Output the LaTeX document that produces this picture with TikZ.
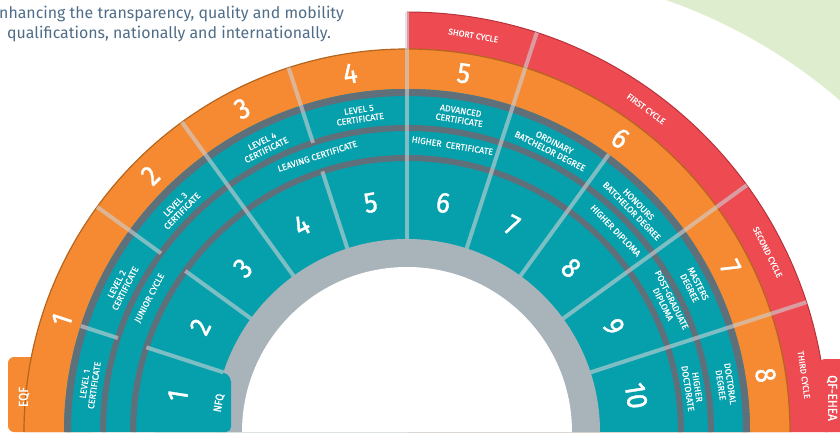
\documentclass[tikz,border=0pt]{standalone}
\usepackage{fontspec}
\setmainfont{Fira Sans}
\newfontfamily\lblfont{Fira Sans}[FakeBold=0.5]
\newfontfamily\numfont{Fira Sans}[FakeStretch=0.9, FakeBold=1.2]
\definecolor{tealc}{HTML}{05A0AC}
\definecolor{darkband}{HTML}{5F707B}
\definecolor{grayring}{HTML}{A9B3BA}
\definecolor{orangec}{HTML}{F58A32}
\definecolor{redc}{HTML}{EE4A51}
\definecolor{brownl}{HTML}{B5651D}
\definecolor{darkred}{HTML}{B8323A}
\definecolor{greenbg}{HTML}{DFEDCF}
\definecolor{toptext}{HTML}{4F6D88}
\definecolor{divc}{HTML}{CDD3D6}
\tikzset{
  lbl/.style={text=white, font=\lblfont\fontsize{8.8}{9.6}\selectfont, align=center, inner sep=0pt},
  cyc/.style={text=white, font=\lblfont\fontsize{8.5}{9}\selectfont, inner sep=0pt},
  numt/.style={text=white, font=\numfont\fontsize{29}{29}\selectfont, inner sep=0pt},
  tabt/.style={text=white, font=\numfont\fontsize{13}{13}\selectfont, inner sep=0pt},
  divider/.style={draw=divc, draw opacity=0.6, line width=4pt},
  darkarc/.style={draw=darkband, line width=6pt},
  toptxt/.style={text=toptext, font=\fontsize{15.9}{18}\selectfont, inner sep=0pt, anchor=base west}
}
\begin{document}
\begin{tikzpicture}[x=1pt,y=1pt]
\useasboundingbox (0,0) rectangle (840,432);
\coordinate (C) at (407,0);
% background green shape
\begin{scope}
\clip (560,150) rectangle (840,432);
\fill[greenbg, even odd rule] (550,140) rectangle (900,500) (488,-78) circle[radius=540];
\end{scope}
% top text
\node[toptxt] (t1) at (-1,413) {nhancing the transparency, quality and mobility};
\node[toptxt] (t2) at (7,393) {qualifications, nationally and internationally.};
% red band (QF-EHEA)
\fill[redc] (C) -- ([shift={(C)}]0:420) arc[start angle=0,end angle=90,radius=420] -- cycle;
\draw[darkred, line width=1pt] ([shift={(C)}]0:420) arc[start angle=0,end angle=90,radius=420];
\fill[redc, rounded corners=6pt] (819,0) -- (819,73) -- (850,73) -- (850,0) -- cycle;
% orange band (EQF)
\fill[orangec] ([shift={(C)}]0:383) arc[start angle=0,end angle=180,radius=383] -- cycle;
\fill[orangec, rounded corners=6pt] (100,0) -- (8,0) -- (8,75) -- (100,75) -- cycle;
\draw[brownl, line width=1.2pt] ([shift={(C)}]0:383) arc[start angle=0,end angle=180,radius=383];
% teal area
\fill[tealc] ([shift={(C)}]0:343) arc[start angle=0,end angle=180,radius=343] -- cycle;
\draw[darkarc] ([shift={(C)}]0:274) arc[start angle=0,end angle=180,radius=274];
\draw[darkarc] ([shift={(C)}]0:304) arc[start angle=0,end angle=180,radius=304];
\draw[darkarc, line width=7pt] ([shift={(C)}]0:339.5) arc[start angle=0,end angle=180,radius=339.5];
% gray ring and white centre
\fill[grayring] ([shift={(C)}]0:193) arc[start angle=0,end angle=180,radius=193] -- cycle;
\fill[white] ([shift={(C)}]0:165) arc[start angle=0,end angle=180,radius=165] -- cycle;
% NFQ tab
\fill[tealc, rounded corners=5pt] ([shift={(C)}]162:240) -- ([shift={(C)}]162:192) -- (231,55) -- (231,0) -- (150,0) -- cycle;
% divider lines
\foreach \a/\ra/\rb in {162/193/274, 162/304/343, 144/193/274, 144/304/383, 126/193/383,
  108/193/274, 108/304/383, 90/193/420, 72/193/420, 54/193/343, 36/193/420, 18/193/420}
  \draw[divider] ([shift={(C)}]\a:\ra) -- ([shift={(C)}]\a:\rb);
% NFQ numbers
\foreach \n [count=\i] in {1,...,10} {
  \pgfmathsetmacro\ang{189-18*\i}
  \node[numt, rotate=\ang-90] (n\n) at ([shift={(C)}]\ang:232) {\n};
}
% EQF numbers
\foreach \ang [count=\i] in {162,135,117,99,81,54,27,9} {
  \node[numt, rotate=\ang-90] (e\i) at ([shift={(C)}]\ang:363) {\i};
}
% cycles
\node[cyc, rotate=-9.5] (c1) at ([shift={(C)}]80.5:402) {SHORT CYCLE};
\node[cyc, rotate=-36.5] (c2) at ([shift={(C)}]53.5:402) {FIRST CYCLE};
\node[cyc, rotate=-63.5] (c3) at ([shift={(C)}]26.5:403) {SECOND CYCLE};
\node[cyc, rotate=-81.8] (c4) at ([shift={(C)}]8.2:401) {THIRD CYCLE};
% outer award band
\node[lbl, rotate=81.5] (a1) at ([shift={(C)}]171.5:321) {LEVEL 1\\CERTIFICATE};
\node[lbl, rotate=63] (a2) at ([shift={(C)}]153:321) {LEVEL 2\\CERTIFICATE};
\node[lbl, rotate=45.5] (a3) at ([shift={(C)}]135.5:320) {LEVEL 3\\CERTIFICATE};
\node[lbl, rotate=26.5] (a4) at ([shift={(C)}]116.5:320) {LEVEL 4\\CERTIFICATE};
\node[lbl, rotate=8.5] (a5) at ([shift={(C)}]98.5:321) {LEVEL 5\\CERTIFICATE};
\node[lbl, rotate=-9.5] (a6) at ([shift={(C)}]80.5:321) {ADVANCED\\CERTIFICATE};
\node[lbl, rotate=-27] (a7) at ([shift={(C)}]63:320) {ORDINARY\\BATCHELOR DEGREE};
\node[lbl, rotate=-45.5] (a8) at ([shift={(C)}]44.5:320) {HONOURS\\BATCHELOR DEGREE};
\node[lbl, rotate=-63] (a9) at ([shift={(C)}]27:322) {MASTERS\\DEGREE};
\node[lbl, rotate=-81.5] (a10) at ([shift={(C)}]8.5:322) {DOCTORAL\\DEGREE};
% middle award band
\node[lbl, rotate=62.5] (m1) at ([shift={(C)}]152.5:290) {JUNIOR CYCLE};
\node[lbl, rotate=18] (m2) at ([shift={(C)}]108:290) {LEAVING CERTIFICATE};
\node[lbl, rotate=-9] (m3) at ([shift={(C)}]81:290) {HIGHER\hspace{2pt} CERTIFICATE};
\node[lbl, rotate=-46] (m4) at ([shift={(C)}]44:290) {HIGHER DIPLOMA};
\node[lbl, rotate=-63.5] (m5) at ([shift={(C)}]26.5:291) {POST-GRADUATE\\DIPLOMA};
\node[lbl, rotate=-81.2] (m6) at ([shift={(C)}]8.8:289) {HIGHER\\DOCTORATE};
% tab texts
\node[tabt, rotate=90] (eqf) at (24,35) {EQF};
\node[tabt, rotate=80, font=\numfont\fontsize{11}{12}\selectfont] (nfq) at (219,29) {NFQ};
\node[tabt, rotate=-90] (qf) at (832,34) {QF-EHEA};
\end{tikzpicture}
\end{document}
